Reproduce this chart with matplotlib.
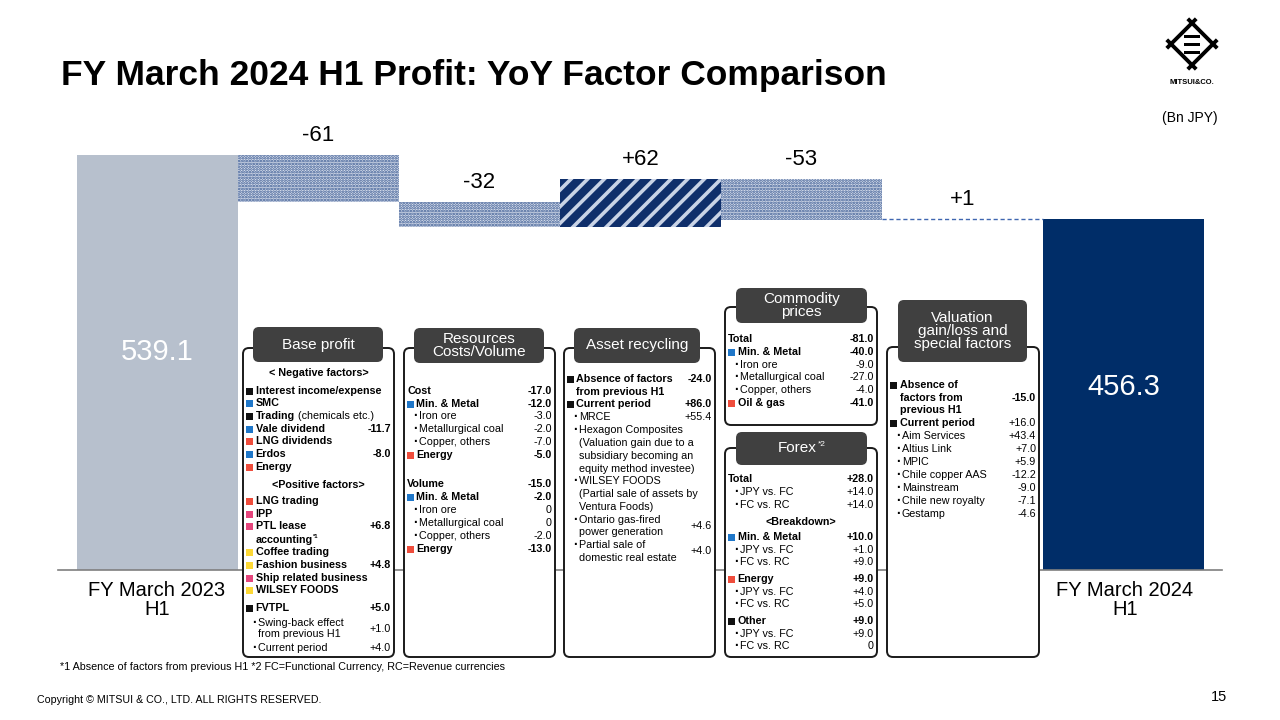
import numpy as np
import matplotlib
import matplotlib.pyplot as plt
from matplotlib.patches import FancyBboxPatch, Rectangle

plt.rcParams['font.family'] = ['Liberation Sans', 'DejaVu Sans']

# ---------------- data ----------------
start_label = 'FY March 2023\nH1'
end_label = 'FY March 2024\nH1'
start_value = 539.1
end_value = 456.3
factor_values = [-61, -32, 62, -53, 1]
factor_text = ['-61', '-32', '+62', '-53', '+1']

# rows: (kind, text, value)
base_rows = [
    ('c', '< Negative factors>', None),
    ('k', 'Interest income/expense', None),
    ('b', 'SMC', None),
    ('k', 'Trading|(chemicals etc.)', None),
    ('b', 'Vale dividend', -11.7),
    ('r', 'LNG dividends', None),
    ('b', 'Erdos', -8.0),
    ('r', 'Energy', None),
    ('c', '<Positive factors>', None),
    ('r', 'LNG trading', None),
    ('p', 'IPP', None),
    ('p', 'PTL lease', 6.8),
    ('hc', 'accounting^*1', None),
    ('y', 'Coffee trading', None),
    ('y', 'Fashion business', 4.8),
    ('p', 'Ship related business', None),
    ('y', 'WILSEY FOODS', None),
    ('k', 'FVTPL', 5.0),
    ('s', 'Swing-back effect', 1.0),
    ('sc', 'from previous H1', None),
    ('s', 'Current period', 4.0),
]
resource_rows = [
    ('h', 'Cost', -17.0),
    ('b', 'Min. & Metal', -12.0),
    ('s', 'Iron ore', -3.0),
    ('s', 'Metallurgical coal', -2.0),
    ('s', 'Copper, others', -7.0),
    ('r', 'Energy', -5.0),
    ('h', 'Volume', -15.0),
    ('b', 'Min. & Metal', -2.0),
    ('s', 'Iron ore', 0),
    ('s', 'Metallurgical coal', 0),
    ('s', 'Copper, others', -2.0),
    ('r', 'Energy', -13.0),
]
asset_rows = [
    ('k', 'Absence of factors', -24.0),
    ('hc', 'from previous H1', None),
    ('k', 'Current period', 86.0),
    ('s', 'MRCE', 55.4),
    ('s', 'Hexagon Composites', None),
    ('sc', '(Valuation gain due to a', None),
    ('sc', 'subsidiary becoming an', None),
    ('sc', 'equity method investee)', None),
    ('s', 'WILSEY FOODS', None),
    ('sc', '(Partial sale of assets by', None),
    ('sc', 'Ventura Foods)', None),
    ('s', 'Ontario gas-fired', 4.6),
    ('sc', 'power generation', None),
    ('s', 'Partial sale of', 4.0),
    ('sc', 'domestic real estate', None),
]
commodity_rows = [
    ('h', 'Total', -81.0),
    ('b', 'Min. & Metal', -40.0),
    ('s', 'Iron ore', -9.0),
    ('s', 'Metallurgical coal', -27.0),
    ('s', 'Copper, others', -4.0),
    ('r', 'Oil & gas', -41.0),
]
forex_rows = [
    ('h', 'Total', 28.0),
    ('s', 'JPY vs. FC', 14.0),
    ('s', 'FC vs. RC', 14.0),
    ('c', '<Breakdown>', None),
    ('b', 'Min. & Metal', 10.0),
    ('s', 'JPY vs. FC', 1.0),
    ('s', 'FC vs. RC', 9.0),
    ('r', 'Energy', 9.0),
    ('s', 'JPY vs. FC', 4.0),
    ('s', 'FC vs. RC', 5.0),
    ('k', 'Other', 9.0),
    ('s', 'JPY vs. FC', 9.0),
    ('s', 'FC vs. RC', 0),
]
valuation_rows = [
    ('k', 'Absence of', None),
    ('hc', 'factors from', -15.0),
    ('hc', 'previous H1', None),
    ('kn', 'Current period', 16.0),
    ('s', 'Aim Services', 43.4),
    ('s', 'Altius Link', 7.0),
    ('s', 'MPIC', 5.9),
    ('s', 'Chile copper AAS', -12.2),
    ('s', 'Mainstream', -9.0),
    ('s', 'Chile new royalty', -7.1),
    ('s', 'Gestamp', -4.6),
]

# ---------------- layout (pixels) ----------------
base_y = [373, 391, 403, 416, 429, 441, 454, 467, 485, 501, 514, 526, 540, 552, 565,
          578, 590, 608, (623, 629), 634, 648]
resource_y = [391, 404, 416, 429, 442, 455, 484, 497, 510, 523, 536, 549]
asset_y = [379, 392, 404, 417, 430, 443, 456, 469, 481, 494, 507, (520, 526), 532, (545, 551), 558]
commodity_y = [339, 352, 365, 377, 390, 403]
forex_y = [479, 492, 505, 522, 537, 550, 562, 579, 592, 604, 621, 634, 646]
valuation_y = [385, 398, 410, 423, 436, 449, 462, 475, 488, 501, 514]

marker_colors = {'k': '#111111', 'kn': '#111111', 'b': '#1f77c9', 'r': '#ef4d3c',
                 'p': '#e5457c', 'y': '#fdd835'}
W, H = 1280, 720

fig = plt.figure(figsize=(12.8, 7.2), dpi=100)
fig.patch.set_facecolor('white')

# ---------------- waterfall axes ----------------
px_per_unit = (570 - 155) / start_value
ymax = 600
ax = fig.add_axes([58 / W, 150 / H, (1222 - 58) / W, ymax * px_per_unit / H])
ax.set_xlim(-0.5 - 19 / 161, 6.5 + 18 / 161)
ax.set_ylim(0, ymax)
for s in ['top', 'left', 'right']:
    ax.spines[s].set_visible(False)
ax.spines['bottom'].set_color('#7f7f7f')
ax.spines['bottom'].set_linewidth(1.2)
ax.set_xticks([])
ax.set_yticks([])
ax.patch.set_alpha(0)

ax.bar(0, start_value, width=1.0, color='#b7c0cd', linewidth=0)
ax.bar(6, end_value, width=1.0, color='#002d68', linewidth=0)
ax.text(0, start_value * 0.525, f'{start_value:.1f}', color='white', fontsize=21,
        ha='center', va='center')
ax.text(6, end_value * 0.52, f'{end_value:.1f}', color='white', fontsize=21,
        ha='center', va='center')

level = start_value
for i, d in enumerate(factor_values):
    x = i + 1
    bottom = min(level, level + d)
    top = max(level, level + d)
    if d == 1:
        ax.plot([x - 0.5, x + 0.5], [top, top], color='#3f66b0', lw=1.0,
                linestyle=(0, (3, 2)))
    elif d > 0:
        plt.rcParams['hatch.linewidth'] = 2.6
        ax.bar(x, abs(d), bottom=bottom, width=1.0, facecolor='#0f2f6b', edgecolor='#c9d3e6',
               hatch='//', linewidth=0)
    else:
        plt.rcParams['hatch.linewidth'] = 1.3
        ax.bar(x, abs(d), bottom=bottom, width=1.0, facecolor='#dce2ee', edgecolor='#34558f',
               hatch='......', linewidth=0)
    ax.text(x, top + 25, factor_text[i], fontsize=16, ha='center', va='center')
    level += d

# ---------------- overlay (pixel coordinates) ----------------
ov = fig.add_axes([0, 0, 1, 1], zorder=5)
ov.set_xlim(0, W)
ov.set_ylim(H, 0)
ov.axis('off')
ov.patch.set_alpha(0)
renderer = fig.canvas.get_renderer()


def text_width(t):
    return t.get_window_extent(renderer).width


def sup_text(x, y, s, fontsize, **kw):
    main, sup = s.split('^')
    t = ov.text(x, y, main, fontsize=fontsize, va='center', **kw)
    ha = kw.get('ha', 'left')
    w = text_width(t)
    if ha == 'center':
        t.set_x(x - 4)
        xe = x - 4 + w / 2
    else:
        xe = x + w
    kw2 = dict(kw)
    kw2['ha'] = 'left'
    ov.text(xe + 0.5, y - fontsize * 0.4, sup, fontsize=fontsize * 0.55, va='center', **kw2)


def panel(x0, y0, x1, y1, hx0, hy0, hx1, hy1, title):
    ov.add_patch(FancyBboxPatch((x0, y0), x1 - x0, y1 - y0,
                                boxstyle='round,pad=0,rounding_size=6',
                                fc='white', ec='#1a1a1a', lw=1.4))
    ov.add_patch(FancyBboxPatch((hx0, hy0), hx1 - hx0, hy1 - hy0,
                                boxstyle='round,pad=0,rounding_size=6',
                                fc='#404040', ec='none'))
    cx, cy = (hx0 + hx1) / 2, (hy0 + hy1) / 2
    if '^' in title:
        sup_text(cx, cy, title, 11, color='white', ha='center')
    else:
        ov.text(cx, cy, title, color='white', fontsize=11, ha='center', va='center',
                linespacing=0.9)


def fmt(v):
    return '0' if v == 0 else f'{v:+.1f}'


def fill_rows(x0, x1, rows, ys, fs=7.75):
    for (kind, txt, val), yy in zip(rows, ys):
        if isinstance(yy, tuple):
            y, vy = yy
        else:
            y = vy = yy
        bold = kind in ('h', 'hc', 'k', 'b', 'r', 'p', 'y')
        weight = 'bold' if bold else 'normal'
        if kind == 'c':
            ov.text((x0 + x1) / 2, y, txt, fontsize=fs, ha='center', va='center', weight='bold')
        elif kind == 'h':
            ov.text(x0 + 3, y, txt, fontsize=fs, va='center', weight='bold')
        elif kind in marker_colors:
            ov.add_patch(Rectangle((x0 + 3, y - 3), 6.5, 6.5, fc=marker_colors[kind], ec='none'))
            if '|' in txt:
                a, b = txt.split('|')
                t = ov.text(x0 + 12.5, y, a, fontsize=fs, va='center', weight='bold')
                ov.text(x0 + 15.5 + text_width(t), y, b, fontsize=fs, va='center')
            else:
                ov.text(x0 + 12.5, y, txt, fontsize=fs, va='center', weight='bold')
        elif kind == 'hc':
            if '^' in txt:
                sup_text(x0 + 12.5, y, txt, fs, weight='bold')
            else:
                ov.text(x0 + 12.5, y, txt, fontsize=fs, va='center', weight='bold')
        elif kind == 's':
            ov.text(x0 + 9.5, y, '\u00b7', fontsize=fs + 2, va='center', weight='bold')
            ov.text(x0 + 15, y, txt, fontsize=fs, va='center')
        elif kind == 'sc':
            ov.text(x0 + 15, y, txt, fontsize=fs, va='center')
        if val is not None:
            ov.text(x1 - 3, vy, fmt(val), fontsize=fs, ha='right', va='center', weight=weight)


panel(243, 348, 394, 657, 253, 327, 383, 362, 'Base profit')
fill_rows(243, 394, base_rows, base_y)
panel(404, 348, 555, 657, 414, 328, 544, 363, 'Resources\nCosts/Volume')
fill_rows(404, 555, resource_rows, resource_y)
panel(564, 348, 715, 657, 574, 328, 700, 363, 'Asset recycling')
fill_rows(564, 715, asset_rows, asset_y)
panel(725, 307, 877, 425, 736, 288, 867, 323, 'Commodity\nprices')
fill_rows(725, 877, commodity_rows, commodity_y)
panel(725, 448, 877, 657, 736, 432, 867, 465, 'Forex^*2')
fill_rows(725, 877, forex_rows, forex_y)
panel(887, 347, 1039, 657, 898, 300, 1027, 362, 'Valuation\ngain/loss and\nspecial factors')
fill_rows(887, 1039, valuation_rows, valuation_y)

# x labels
ov.text(157, 600, start_label, fontsize=14.5, ha='center', va='center', linespacing=0.95)
ov.text(1125, 600, end_label, fontsize=14.5, ha='center', va='center', linespacing=0.95)

# title and page text
ov.text(61, 75, 'FY March 2024 H1 Profit: YoY Factor Comparison', fontsize=25.5,
        weight='bold', va='center')
ov.text(1190, 118, '(Bn JPY)', fontsize=10, ha='center', va='center')
ov.text(60, 667, '*1 Absence of factors from previous H1 *2 FC=Functional Currency, '
        'RC=Revenue currencies', fontsize=7.75, va='center')
ov.text(37, 700, 'Copyright \u00a9 MITSUI & CO., LTD. ALL RIGHTS RESERVED.', fontsize=7.7,
        va='center')
ov.text(1227, 697, '15', fontsize=10.5, ha='right', va='center')

# logo
cx, cy, r, ext = 1192, 44, 21, 6
corners = [(cx - r, cy), (cx, cy - r), (cx + r, cy), (cx, cy + r)]
for k in range(4):
    p, q = np.array(corners[k]), np.array(corners[(k + 1) % 4])
    u = (q - p) / np.linalg.norm(q - p)
    a, b = p - u * ext, q + u * ext
    ov.plot([a[0], b[0]], [a[1], b[1]], color='black', lw=2.8, solid_capstyle='butt')
for dy in (-8, 0, 8):
    ov.add_patch(Rectangle((cx - 8, cy + dy - 1.5), 16, 3, fc='black', ec='none'))
ov.text(cx, 83, 'MITSUI&CO.', fontsize=5.5, weight='bold', ha='center', va='center')

fig.savefig('out.png', dpi=100)
